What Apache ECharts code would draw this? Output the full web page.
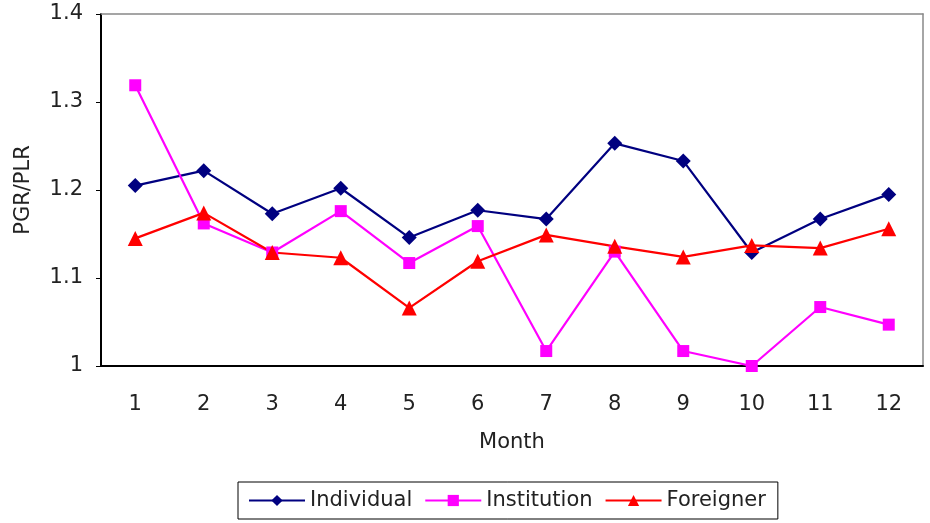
<!DOCTYPE html>
<html><head><meta charset="utf-8">
<script src="https://cdn.jsdelivr.net/npm/echarts@6/dist/echarts.min.js"></script>
<style>html,body{margin:0;padding:0;background:#fff}#c{width:930px;height:523px}</style>
</head><body><div id="c"></div>
<script>
const months = ['1','2','3','4','5','6','7','8','9','10','11','12'];
const individual = [1.205,1.222,1.173,1.202,1.146,1.177,1.167,1.253,1.233,1.129,1.167,1.195];
const institution = [1.319,1.162,1.129,1.176,1.117,1.159,1.017,1.130,1.017,1.000,1.067,1.047];
const foreigner = [1.145,1.174,1.129,1.123,1.066,1.119,1.149,1.136,1.124,1.137,1.134,1.156];
const yTicks = [1, 1.4, 0.1];

const font = 'DejaVu Sans, sans-serif';
const chart = echarts.init(document.getElementById('c'));
function ser(name, data, color, symbol, size){
  return {name, type:'line', data, symbol, symbolSize:size, xAxisIndex:0, yAxisIndex:0,
    lineStyle:{color, width:2.2}, itemStyle:{color}, animation:false};
}
chart.setOption({
  animation:false,
  grid:{left:101, right:7, top:14, bottom:157, show:false, containLabel:false, outerBoundsMode:'none'},
  legend:{
    top:482, left:238, itemGap:12, itemWidth:56, itemHeight:14,
    padding:[8,12,8,10], borderColor:'#000', borderWidth:1,
    textStyle:{fontFamily:font, fontSize:21, color:'#222', padding:[0,0,0,0]},
    data:['Individual','Institution','Foreigner']
  },
  xAxis:[{
    type:'category', data:months, boundaryGap:true,
    name:'Month', nameLocation:'middle', nameGap:66,
    nameTextStyle:{fontFamily:font, fontSize:21, color:'#222'},
    axisLine:{lineStyle:{color:'#000', width:2}},
    axisTick:{inside:true, length:7, lineStyle:{color:'#666', width:1.5}},
    axisLabel:{fontFamily:font, fontSize:21, color:'#222', margin:28},
    splitLine:{show:false}
  },{
    type:'category', data:months, position:'top', boundaryGap:true,
    axisLine:{lineStyle:{color:'#888', width:1.5}}, axisTick:{show:false}, axisLabel:{show:false}
  }],
  yAxis:[{
    type:'value', min:yTicks[0], max:yTicks[1], interval:yTicks[2],
    name:'PGR/PLR', nameLocation:'middle', nameGap:67, nameRotate:90,
    nameTextStyle:{fontFamily:font, fontSize:21, color:'#222'},
    axisLine:{show:true, lineStyle:{color:'#000', width:2}},
    axisTick:{show:true, length:5, lineStyle:{color:'#000'}},
    axisLabel:{fontFamily:font, fontSize:21, color:'#222', margin:18,
      formatter:v=> (Math.abs(v-1)<1e-9 ? '1' : v.toFixed(1))},
    splitLine:{show:false}
  },{
    type:'value', min:yTicks[0], max:yTicks[1], interval:yTicks[2], position:'right',
    axisLine:{show:true, lineStyle:{color:'#888', width:1.5}}, axisTick:{show:false},
    axisLabel:{show:false}, splitLine:{show:false}
  }],
  series:[
    ser('Individual', individual, '#000080', 'diamond', 15),
    ser('Institution', institution, '#ff00ff', 'rect', 12),
    ser('Foreigner', foreigner, '#ff0000', 'triangle', 15)
  ]
});
</script></body></html>
